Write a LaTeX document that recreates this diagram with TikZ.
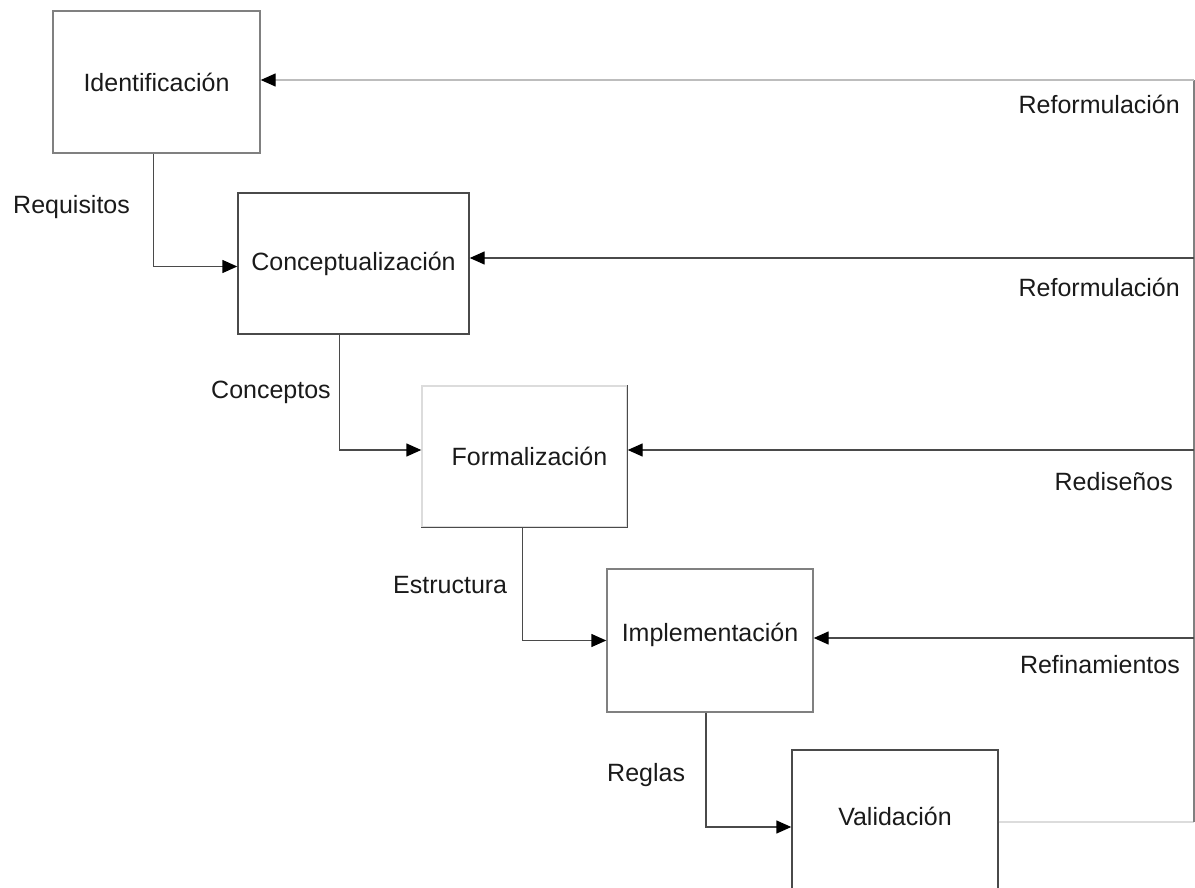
\documentclass[tikz,border=0pt]{standalone}
\usepackage{fontspec}
\setmainfont{Liberation Sans}
\usetikzlibrary{arrows.meta,calc}
\definecolor{ink}{HTML}{1A1A1A}
\definecolor{edge}{HTML}{4A4A4A}
\definecolor{midedge}{HTML}{808080}
\definecolor{softedge}{HTML}{BDBDBD}
\definecolor{paleedge}{HTML}{DCDCDC}
\begin{document}
\begin{tikzpicture}[x=1pt,y=-1pt,
  stage/.style={draw=edge, line width=1.4pt, inner sep=0pt, text=ink,
    font=\fontsize{25}{30}\selectfont},
  lbl/.style={text=ink, inner sep=0pt, font=\fontsize{25}{30}\selectfont},
  flow/.style={draw=edge, line width=1.4pt,
    -{Triangle[length=15pt,width=13pt,color=black]}},
  softflow/.style={flow, draw=softedge},
  rail/.style={draw=edge, line width=1.4pt},
]
\useasboundingbox (0,0) rectangle (1195,888);
\clip (0,0) rectangle (1195,888);

% stages of the process
\node[stage, draw=midedge, minimum width=207pt, minimum height=142pt] (ident) at (156.5,82) {Identificación};
\node[stage, minimum width=231pt, minimum height=141pt] (concept) at (353.5,263.5) {Conceptualización};
\node[stage, draw=paleedge, minimum width=205pt, minimum height=141pt] (formal) at (524.5,456.5) {\hspace*{10pt}Formalización};
\draw[rail] (formal.north east) -- (formal.south east) -- (formal.south west);
\node[stage, draw=midedge, minimum width=206pt, minimum height=143pt] (implem) at (710,640.5) {\raisebox{-1pt}[0pt][0pt]{Implementación}};
\node[stage, minimum width=206pt, minimum height=150pt] (valid) at (895,825) {\raisebox{0pt}[0pt][0pt]{Validación}};

% forward flow between stages
\draw[flow] ([xshift=-3pt]ident.south) |- ([yshift=-3pt]concept.west);
\draw[flow] ([xshift=-14pt]concept.south) |- ([yshift=6.5pt]formal.west);
\draw[flow] ([xshift=-2pt]formal.south) |- (implem.west);
\draw[flow] ([xshift=-4pt]implem.south) |- ([yshift=-2pt]valid.west);

% feedback rail on the right
\coordinate (r1) at (1194,80);
\coordinate (r2) at (1194,258);
\coordinate (r3) at (1194,450);
\coordinate (r4) at (1194,638);
\coordinate (r5) at (1194,822);
\draw[rail, draw=paleedge] (r5 -| valid.east) -- (r5);
\draw[rail, draw=midedge] (r5) -- (r1);
\draw[softflow] (r1) -- (r1 -| ident.east);
\draw[flow] (r2) -- (r2 -| concept.east);
\draw[flow] (r3) -- (r3 -| formal.east);
\draw[flow] (r4) -- (r4 -| implem.east);

% labels
\node[lbl, anchor=west] (lreq) at (13,207) {Requisitos};
\node[lbl, anchor=west] (lcon) at (211,392) {Conceptos};
\node[lbl, anchor=west] (lest) at (393,585) {Estructura};
\node[lbl, anchor=west] (lreg) at (607,775) {Reglas};
\node[lbl, anchor=east] (lref1) at (1180,104) {Reformulación};
\node[lbl, anchor=east] (lref2) at (1180,287) {Reformulación};
\node[lbl, anchor=east] (lred) at (1173,482) {Rediseños};
\node[lbl, anchor=east] (lrefi) at (1180,665) {Refinamientos};
\end{tikzpicture}
\end{document}
